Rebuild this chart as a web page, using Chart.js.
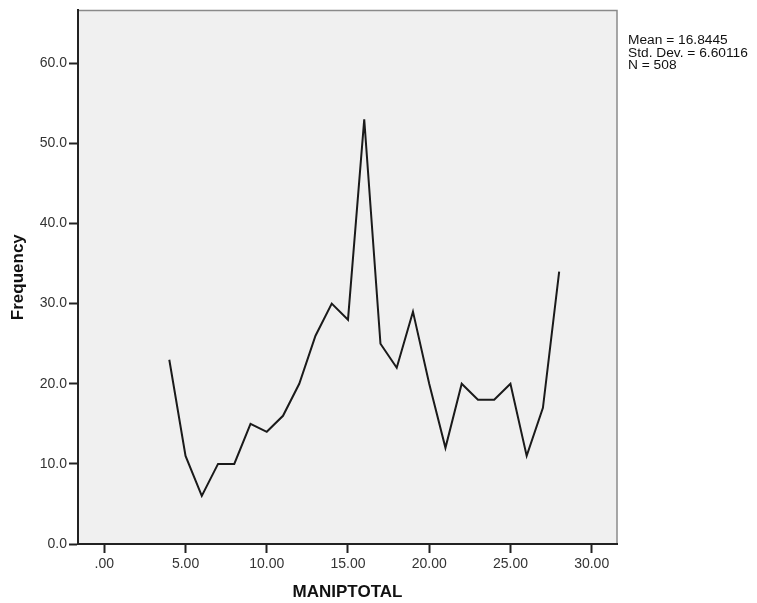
<!DOCTYPE html>
<html>
<head>
<meta charset="utf-8">
<script src="https://cdn.jsdelivr.net/npm/chart.js@4.4.0/dist/chart.umd.min.js"></script>
<style>
  html, body { margin: 0; padding: 0; background: #fff; }
  #wrap { width: 757px; height: 603px; position: relative; }
</style>
</head>
<body>
<div id="wrap"><canvas id="chart" width="757" height="603"></canvas></div>
<script>
// scores (x) and counts (y)
const scores = [4, 5, 6, 7, 8, 9, 10, 11, 12, 13, 14, 15, 16, 17, 18, 19, 20, 21, 22, 23, 24, 25, 26, 27, 28];
const frequencies = [23, 11, 6, 10, 10, 15, 14, 16, 20, 26, 30, 28, 53, 25, 22, 29, 20, 12, 20, 18, 18, 20, 11, 17, 34];
const xTicks = [0, 5, 10, 15, 20, 25, 30];
const yTicks = [0, 10, 20, 30, 40, 50, 60];
const statLines = ['Mean = 16.8445', 'Std. Dev. = 6.60116', 'N = 508'];

// plot background + light frame on top/right, stats text
const framePlugin = {
    id: 'frame',
    beforeDraw: function (chart) {
        const a = chart.chartArea;
        const ctx = chart.ctx;
        ctx.save();
        ctx.fillStyle = '#f0f0f0';
        ctx.fillRect(a.left, a.top, a.right - a.left, a.bottom - a.top);
        ctx.strokeStyle = '#8a8a8a';
        ctx.lineWidth = 1.5;
        ctx.beginPath();
        ctx.moveTo(a.left, a.top);
        ctx.lineTo(a.right, a.top);
        ctx.lineTo(a.right, a.bottom);
        ctx.stroke();
        ctx.restore();
    },
    afterDraw: function (chart) {
        const ctx = chart.ctx;
        ctx.save();
        ctx.fillStyle = '#111';
        ctx.font = '12.5px Arial, "Liberation Sans", sans-serif';
        ctx.textBaseline = 'middle';
        ctx.translate(628, 0);
        ctx.scale(1.1, 1);
        statLines.forEach(function (t, i) {
            ctx.fillText(t, 0, 41 + i * 12.5);
        });
        ctx.restore();
    }
};

const points = scores.map(function (s, i) { return { x: s, y: frequencies[i] }; });

new Chart(document.getElementById('chart'), {
    type: 'line',
    data: {
        datasets: [{
            data: points,
            borderColor: '#1a1a1a',
            borderWidth: 2,
            pointRadius: 0,
            tension: 0,
            fill: false
        }]
    },
    options: {
        responsive: false,
        animation: false,
        layout: { padding: { top: 9, right: 140, left: 0, bottom: 0 } },
        plugins: {
            legend: { display: false },
            tooltip: { enabled: false }
        },
        scales: {
            x: {
                type: 'linear',
                min: -1.62,
                max: 31.56,
                afterBuildTicks: function (axis) {
                    axis.ticks = xTicks.map(function (v) { return { value: v }; });
                },
                afterFit: function (axis) { axis.height = 59; },
                grid: { drawOnChartArea: false, tickLength: 9, tickColor: '#222', tickWidth: 2 },
                border: { color: '#222', width: 2 },
                ticks: {
                    padding: 3,
                    color: '#333',
                    font: { family: 'Arial, "Liberation Sans", sans-serif', size: 14 },
                    maxRotation: 0,
                    callback: function (v) { return v === 0 ? '.00' : v.toFixed(2); }
                },
                title: {
                    display: true,
                    text: 'MANIPTOTAL',
                    color: '#111',
                    font: { family: 'Arial, "Liberation Sans", sans-serif', size: 17, weight: 'bold' },
                    padding: { top: 4, bottom: 0 }
                }
            },
            y: {
                type: 'linear',
                min: 0,
                max: 66.6,
                afterBuildTicks: function (axis) {
                    axis.ticks = yTicks.map(function (v) { return { value: v }; });
                },
                afterFit: function (axis) { axis.width = 78; },
                grid: { drawOnChartArea: false, tickLength: 9, tickColor: '#222', tickWidth: 2 },
                border: { color: '#222', width: 2 },
                ticks: {
                    padding: 2,
                    color: '#333',
                    font: { family: 'Arial, "Liberation Sans", sans-serif', size: 14 },
                    callback: function (v) { return v.toFixed(1); }
                },
                title: {
                    display: true,
                    text: 'Frequency',
                    color: '#111',
                    font: { family: 'Arial, "Liberation Sans", sans-serif', size: 17, weight: 'bold' },
                    padding: { top: 8, bottom: 0 }
                }
            }
        }
    },
    plugins: [framePlugin]
});
</script>
</body>
</html>
